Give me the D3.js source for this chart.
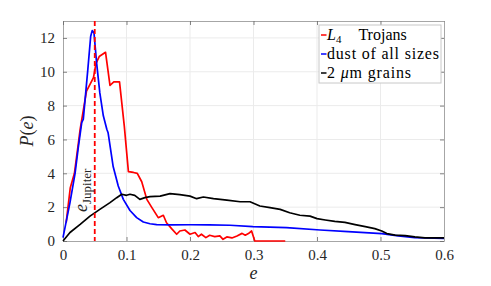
<!DOCTYPE html>
<html>
<head>
<meta charset="utf-8">
<script src="https://cdn.jsdelivr.net/npm/d3@7"></script>
<style>
  body { margin: 0; background: #fff; }
</style>
</head>
<body>
<div id="chart"></div>
<script>
// L4 Trojans
const trojanE = [0.005, 0.0115, 0.018, 0.025, 0.027, 0.037, 0.048, 0.052, 0.057, 0.067, 0.074, 0.080, 0.089, 0.0965, 0.103, 0.111, 0.117, 0.124, 0.132, 0.140, 0.150, 0.158, 0.163, 0.171, 0.179, 0.184, 0.192, 0.200, 0.208, 0.213, 0.218, 0.225, 0.231, 0.239, 0.247, 0.252, 0.258, 0.266, 0.274, 0.282, 0.287, 0.292, 0.297, 0.302, 0.35]
const trojanP = [1.08, 3.15, 4.0, 6.0, 6.6, 8.85, 9.65, 10.5, 10.9, 11.15, 9.2, 9.4, 9.4, 6.8, 4.1, 4.05, 4.0, 3.5, 2.46, 1.97, 1.38, 1.52, 1.08, 0.73, 0.4, 0.59, 0.65, 0.4, 0.5, 0.26, 0.4, 0.2, 0.34, 0.26, 0.3, 0.1, 0.24, 0.18, 0.3, 0.45, 0.34, 0.44, 0.59, 0.0, 0.0]

// dust of all sizes
const dustE = [0.0, 0.011, 0.019, 0.024, 0.0295, 0.032, 0.039, 0.0436, 0.046, 0.0488, 0.053, 0.058, 0.0635, 0.069, 0.071, 0.079, 0.087, 0.095, 0.1055, 0.116, 0.1265, 0.137, 0.1475, 0.17, 0.2, 0.23, 0.263, 0.299, 0.352, 0.405, 0.449, 0.502, 0.528, 0.554, 0.6]
const dustP = [0.2, 2.27, 4.0, 5.5, 7.0, 7.2, 10.1, 12.1, 12.43, 12.3, 10.5, 8.75, 7.4, 6.6, 6.4, 4.4, 3.25, 2.46, 1.8, 1.38, 1.12, 1.02, 0.97, 0.95, 0.96, 0.95, 0.93, 0.85, 0.79, 0.65, 0.55, 0.44, 0.3, 0.2, 0.16]

// 2 um grains
const grainE = [0.0, 0.011, 0.027, 0.0425, 0.058, 0.074, 0.0846, 0.0925, 0.1, 0.1055, 0.113, 0.121, 0.129, 0.137, 0.153, 0.1685, 0.184, 0.2, 0.2105, 0.221, 0.237, 0.258, 0.279, 0.2945, 0.31, 0.326, 0.342, 0.357, 0.373, 0.389, 0.4, 0.413, 0.428, 0.444, 0.46, 0.476, 0.491, 0.502, 0.51, 0.523, 0.539, 0.554, 0.57, 0.6]
const grainP = [0.0, 0.5, 0.98, 1.47, 1.87, 2.27, 2.56, 2.76, 2.7, 2.76, 2.7, 2.46, 2.56, 2.62, 2.65, 2.8, 2.74, 2.65, 2.5, 2.6, 2.5, 2.42, 2.32, 2.32, 2.07, 1.97, 1.87, 1.67, 1.52, 1.47, 1.32, 1.24, 1.16, 1.1, 0.97, 0.85, 0.73, 0.59, 0.44, 0.35, 0.32, 0.24, 0.18, 0.18]

const xTicks = [0, 0.1, 0.2, 0.3, 0.4, 0.5, 0.6]
const yTicks = [0, 2, 4, 6, 8, 10, 12]
const eJupiter = 0.05

const legendLabels = ["L4 Trojans", "dust of all sizes", "2 μm grains"]
const colors = ["#ff0000", "#0000ff", "#000000"]

const SERIF = "Liberation Serif"

const W = 491, H = 286
const margin = {left: 63, right: 47, top: 21, bottom: 45}
const width = W - margin.left - margin.right
const height = H - margin.top - margin.bottom

const svg = d3.select("#chart").append("svg")
    .attr("width", W)
    .attr("height", H)

const g = svg.append("g")
    .attr("transform", "translate(" + margin.left + "," + margin.top + ")")

const x = d3.scaleLinear().domain([0, 0.6]).range([0, width])
const y = d3.scaleLinear().domain([0, 13]).range([height, 0])

// grid
g.append("g").selectAll("line").data(xTicks.slice(1, -1)).join("line")
    .attr("x1", d => x(d)).attr("x2", d => x(d))
    .attr("y1", 0).attr("y2", height)
    .attr("stroke", "#ebebeb").attr("stroke-width", 1)
g.append("g").selectAll("line").data(yTicks.slice(1)).join("line")
    .attr("x1", 0).attr("x2", width)
    .attr("y1", d => y(d)).attr("y2", d => y(d))
    .attr("stroke", "#ebebeb").attr("stroke-width", 1)

// axes
const xAxis = d3.axisBottom(x).tickValues(xTicks).tickSizeInner(-4).tickSizeOuter(0)
    .tickPadding(8).tickFormat(d => d === 0 ? "0" : d3.format(".1f")(d))
const yAxis = d3.axisLeft(y).tickValues(yTicks).tickSizeInner(-4).tickSizeOuter(0)
    .tickPadding(8).tickFormat(d3.format("d"))

const gx = g.append("g").attr("transform", "translate(0," + height + ")").call(xAxis)
const gy = g.append("g").call(yAxis)
const gxTop = g.append("g").call(d3.axisTop(x).tickValues(xTicks).tickSizeInner(-4).tickSizeOuter(0).tickFormat(""))
const gyRight = g.append("g").attr("transform", "translate(" + width + ",0)")
    .call(d3.axisRight(y).tickValues(yTicks).tickSizeInner(-4).tickSizeOuter(0).tickFormat(""))

for (const a of [gx, gy, gxTop, gyRight]) {
    a.attr("font-family", SERIF)
    a.select(".domain").attr("stroke", "#a6a6a6").attr("stroke-width", 1)
    a.selectAll(".tick line").attr("stroke", "#666").attr("stroke-width", 0.8)
    a.selectAll(".tick text").attr("fill", "#262626").attr("font-size", 15)
}

// curves
const series = [
    {e: trojanE, p: trojanP},
    {e: dustE, p: dustP},
    {e: grainE, p: grainP}
]
const line = d3.line().x(d => x(d[0])).y(d => y(d[1]))

series.forEach(function(s, i) {
    g.append("path")
        .datum(s.e.map((v, k) => [v, s.p[k]]))
        .attr("fill", "none")
        .attr("stroke", colors[i])
        .attr("stroke-width", 1.7)
        .attr("stroke-linejoin", "round")
        .attr("d", line)
})

// e_Jupiter marker
g.append("line")
    .attr("x1", x(eJupiter)).attr("x2", x(eJupiter))
    .attr("y1", 0).attr("y2", height)
    .attr("stroke", "#ff0000").attr("stroke-width", 1.8)
    .attr("stroke-dasharray", "5,3")

const jl = g.append("text")
    .attr("transform", "translate(" + (x(eJupiter) - 7.5) + "," + (height - 29) + ") rotate(-90)")
    .attr("font-size", 18).attr("fill", "#262626")
jl.append("tspan").attr("font-style", "italic").text("e")
jl.append("tspan").attr("dy", 4).attr("font-size", 13).text("Jupiter")

// axis labels
svg.append("text")
    .attr("x", margin.left + width / 2).attr("y", 279)
    .attr("text-anchor", "middle")
    .attr("font-size", 18).attr("font-style", "italic").attr("fill", "#262626")
    .text("e")

const yl = svg.append("text")
    .attr("transform", "translate(33," + (margin.top + height / 2) + ") rotate(-90)")
    .attr("text-anchor", "middle")
    .attr("font-size", 18).attr("fill", "#262626")
yl.append("tspan").attr("font-style", "italic").text("P")
yl.append("tspan").text("(")
yl.append("tspan").attr("font-style", "italic").text("e")
yl.append("tspan").text(")")

// legend
const lg = svg.append("g").attr("transform", "translate(319,25)")
lg.append("rect").attr("width", 122).attr("height", 58)
    .attr("fill", "#fff").attr("stroke", "#c8c8c8").attr("stroke-width", 1)

legendLabels.forEach(function(lab, i) {
    const yy = 10 + i * 19
    lg.append("line").attr("x1", 2).attr("x2", 7.5).attr("y1", yy).attr("y2", yy)
        .attr("stroke", colors[i]).attr("stroke-width", 1.5)
    const t = lg.append("text").attr("x", 8).attr("y", yy + 5)
        .attr("font-size", 16).attr("fill", "#000")
    if (i === 0) {
        t.append("tspan").attr("font-style", "italic").text("L")
        t.append("tspan").attr("dy", 3).attr("font-size", 11).text("4")
        t.append("tspan").attr("dy", -3).attr("dx", 17).text("Trojans")
    } else if (i === 2) {
        t.append("tspan").text("2 ")
        t.append("tspan").attr("font-style", "italic").text("μ")
        t.append("tspan").text("m grains")
        t.attr("textLength", 84).attr("lengthAdjust", "spacing")
    } else {
        t.attr("textLength", 112).attr("lengthAdjust", "spacing").text(lab)
    }
})

svg.selectAll("text").attr("font-family", SERIF)
</script>
</body>
</html>
